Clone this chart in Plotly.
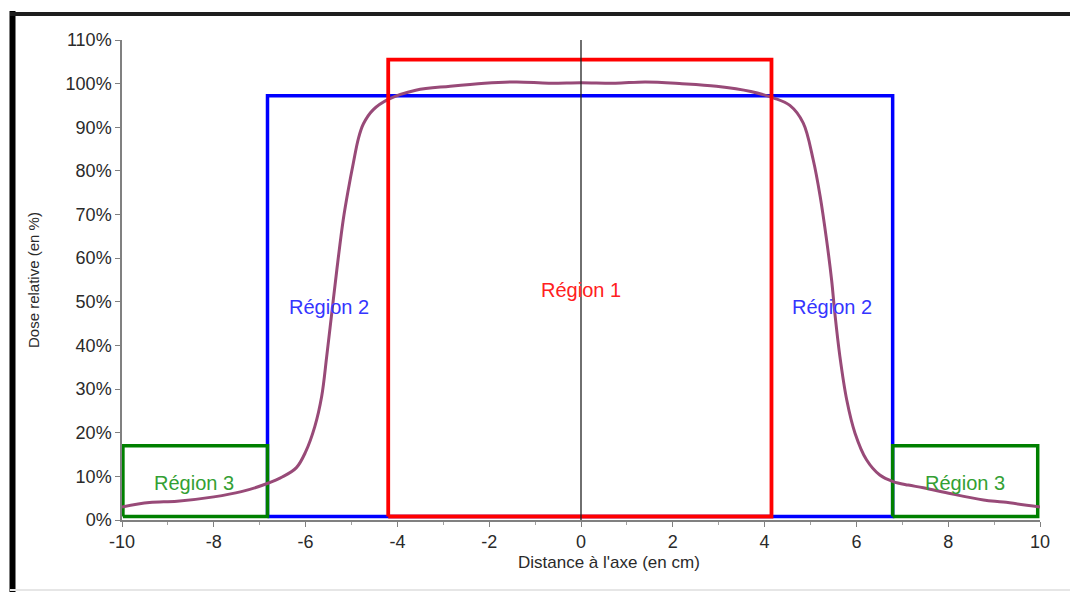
import plotly.graph_objects as go

# Relative dose profile across the beam axis
distance_cm = [-10, -9.4, -8.8, -8.0, -7.4, -6.85, -6.5, -6.2, -6.0, -5.8, -5.65,
               -5.54, -5.43, -5.32, -5.18, -5.07, -4.96, -4.85, -4.74, -4.53, -4.2,
               -3.6, -2.85, -2.1, -1.4, -0.7, 0.0, 0.75, 1.4, 2.2, 2.95, 3.7, 4.2,
               4.55, 4.84, 5.06, 5.21, 5.35, 5.46, 5.53, 5.64, 5.79, 5.97, 6.22,
               6.51, 6.8, 7.13, 7.46, 8.07, 8.77, 9.2, 10]
dose_pct = [3.0, 4.0, 4.3, 5.3, 6.5, 8.3, 9.9, 12.0, 15.6, 21.4, 28.3,
            37.5, 47.4, 57.3, 68.8, 75.7, 81.8, 87.4, 90.8, 94.0, 96.4,
            98.5, 99.4, 100.1, 100.4, 100.1, 100.2, 100.1, 100.4, 100.0, 99.4, 98.2, 96.7,
            95.0, 91.0, 82.5, 74.2, 64.2, 55.0, 47.4, 37.5, 27.5, 19.9, 13.8,
            10.3, 8.8, 8.0, 7.4, 6.0, 4.6, 4.1, 3.0]

# Region boxes: (x0, x1, y0, y1) in axis units
region1_box = [-4.2, 4.15, 0.8, 105.5]
region2_box = [-6.83, 6.79, 0.8, 97.2]
region3_left_box = [-9.98, -6.83, 0.8, 17.0]
region3_right_box = [6.79, 9.95, 0.8, 17.0]

# Region labels: (text, x, y)
region_labels = [("Région 1", 0.0, 52.8), ("Région 2", -5.5, 48.9), ("Région 2", 5.47, 48.9),
                 ("Région 3", -8.43, 8.5), ("Région 3", 8.37, 8.5)]
label_colors = ["#ff2020", "#3535ff", "#3535ff", "#33a033", "#33a033"]

x_ticks = [-10, -8, -6, -4, -2, 0, 2, 4, 6, 8, 10]
x_tick_text = ["-10", "-8", "-6", "-4", "-2", "0", "2", "4", "6", "8", "10"]
y_ticks = [0, 10, 20, 30, 40, 50, 60, 70, 80, 90, 100, 110]
y_tick_text = [f"{v}%" for v in y_ticks]

FONT = "Liberation Sans, Arial, sans-serif"


def box_trace(b, color, width):
    x0, x1, y0, y1 = b
    return go.Scatter(x=[x0, x1, x1, x0, x0], y=[y0, y0, y1, y1, y0], mode="lines",
                      line=dict(color=color, width=width), hoverinfo="skip",
                      showlegend=False)


fig = go.Figure()
fig.add_trace(box_trace(region2_box, "#0000ff", 3.5))
fig.add_trace(box_trace(region3_left_box, "#008000", 3.5))
fig.add_trace(box_trace(region3_right_box, "#008000", 3.5))
fig.add_trace(go.Scatter(x=distance_cm, y=dose_pct, mode="lines",
                         line=dict(color="#984a78", width=3, shape="spline", smoothing=1.0),
                         showlegend=False))
fig.add_trace(box_trace(region1_box, "#ff0000", 3.8))
# beam axis
fig.add_trace(go.Scatter(x=[0, 0], y=[0, 110], mode="lines",
                         line=dict(color="#222222", width=1.3), showlegend=False,
                         hoverinfo="skip"))

for (txt, lx, ly), col in zip(region_labels, label_colors):
    fig.add_annotation(x=lx, y=ly, xref="x", yref="y", text=txt, showarrow=False,
                       xanchor="center", yanchor="middle",
                       font=dict(family=FONT, size=20, color=col))

# plot-area geometry in pixels
L, R, T, B = 122, 1040, 40, 520
W, H = R - L, B - T


def px(xp):
    return (xp - L) / W


def py(yp):
    return (B - yp) / H


fig.add_annotation(x=px(33), y=py(280), xref="paper", yref="paper", text="Dose relative (en %)",
                   textangle=-90, showarrow=False, xanchor="center", yanchor="middle",
                   font=dict(family=FONT, size=15, color="#2a2a2a"))
fig.add_annotation(x=px(609), y=py(562), xref="paper", yref="paper",
                   text="Distance à l'axe (en cm)", showarrow=False,
                   xanchor="center", yanchor="middle",
                   font=dict(family=FONT, size=17, color="#2a2a2a"))

# frame around the figure
fig.add_shape(type="line", xref="paper", yref="paper", x0=px(12.5), x1=px(12.5),
              y0=py(11), y1=py(595), line=dict(color="#000000", width=6))
fig.add_shape(type="line", xref="paper", yref="paper", x0=px(10), x1=px(1075),
              y0=py(14), y1=py(14), line=dict(color="#1e1e1e", width=4))
fig.add_shape(type="line", xref="paper", yref="paper", x0=px(10), x1=px(1075),
              y0=py(590), y1=py(590), line=dict(color="#e6e6e6", width=2))

fig.update_xaxes(range=[-10, 10], tickvals=x_ticks, ticktext=x_tick_text,
                 showgrid=False, zeroline=False, showline=True, linecolor="#808080",
                 linewidth=1.5, ticks="outside", ticklen=5, tickcolor="#808080",
                 minor=dict(ticks="outside", ticklen=3, dtick=1, tickcolor="#a0a0a0"),
                 tickfont=dict(family=FONT, size=18, color="#2a2a2a"))
fig.update_yaxes(range=[0, 110], tickvals=y_ticks, ticktext=y_tick_text,
                 showgrid=False, zeroline=False, showline=True, linecolor="#808080",
                 linewidth=1.5, ticks="outside", ticklen=5, tickcolor="#808080",
                 tickfont=dict(family=FONT, size=18, color="#2a2a2a"))

fig.update_layout(width=1070, height=592, margin=dict(l=L, r=1070 - R, t=T, b=592 - B),
                  paper_bgcolor="#ffffff", plot_bgcolor="#ffffff")

fig.write_html("out.html")
